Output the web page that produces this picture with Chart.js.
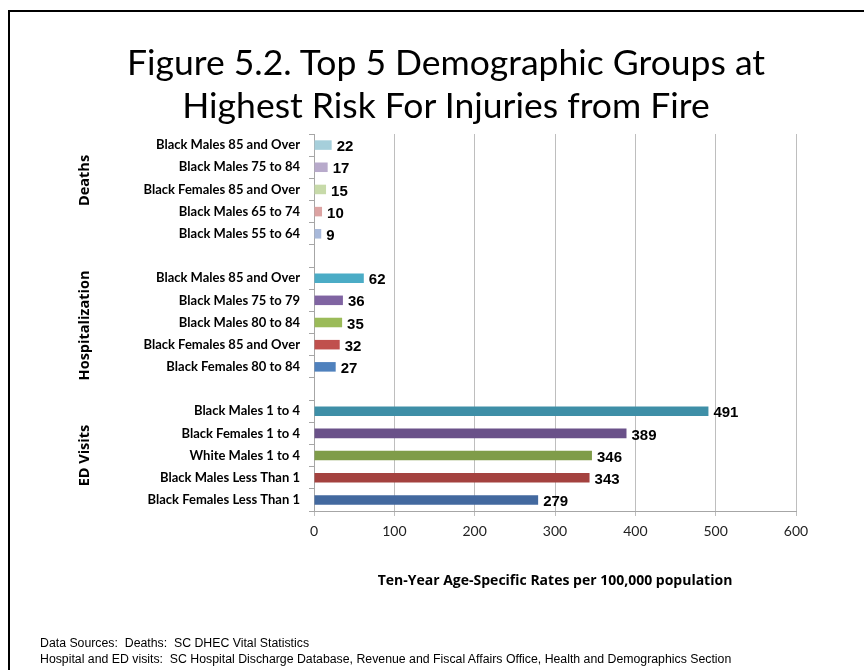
<!DOCTYPE html>
<html>
<head>
<meta charset="utf-8">
<script src="https://cdn.jsdelivr.net/npm/chart.js@4"></script>
<style>
    body { margin: 0; width: 864px; height: 670px; overflow: hidden; background: #fff; position: relative; }
    #frame { position: absolute; left: 8px; top: 10px; width: 900px; height: 700px; border: 2px solid #000; }
    #chart { position: absolute; left: 0; top: 0; }
    .title { position: absolute; left: 0; width: 892px; top: 40px; text-align: center;
             font-family: Lato, sans-serif; font-size: 35.5px; line-height: 43px; color: #000; }
    .sources { position: absolute; left: 40px; top: 635px; font-family: "Liberation Sans", sans-serif;
               font-size: 12.3px; line-height: 16px; color: #000; white-space: nowrap; }
</style>
</head>
<body>
<div id="frame"></div>
<canvas id="chart" width="864" height="670"></canvas>
<div class="title">Figure 5.2. Top 5 Demographic Groups at<br>Highest Risk For Injuries from Fire</div>
<div class="sources">Data Sources:&nbsp; Deaths:&nbsp; SC DHEC Vital Statistics<br>Hospital and ED visits:&nbsp; SC Hospital Discharge Database, Revenue and Fiscal Affairs Office, Health and Demographics Section</div>
<script>
// data
const sections = ['Deaths', 'Hospitalization', 'ED Visits'];

const deathGroups = ['Black Males 85 and Over', 'Black Males 75 to 84', 'Black Females 85 and Over', 'Black Males 65 to 74', 'Black Males 55 to 64'];
const deathRates = [22, 17, 15, 10, 9];

const hospGroups = ['Black Males 85 and Over', 'Black Males 75 to 79', 'Black Males 80 to 84', 'Black Females 85 and Over', 'Black Females 80 to 84'];
const hospRates = [62, 36, 35, 32, 27];

const edGroups = ['Black Males 1 to 4', 'Black Females 1 to 4', 'White Males 1 to 4', 'Black Males Less Than 1', 'Black Females Less Than 1'];
const edRates = [491, 389, 346, 343, 279];

const xMin = 0;
const xMax = 600;
const xStep = 100;

// colours per bar
const deathColors = ['#A6CFDB', '#B8AACB', '#C7DAA9', '#DCA3A2', '#A8B9DA'];
const hospColors = ['#4BACC6', '#8064A2', '#9BBB59', '#C0504D', '#4F81BD'];
const edColors = ['#3E8FA7', '#6A5189', '#7F9C49', '#A4423F', '#43699F'];

// one row of gap between the sections
const labels = [...deathGroups, '', ...hospGroups, '', ...edGroups];
const values = [...deathRates, null, ...hospRates, null, ...edRates];
const colors = [...deathColors, 'rgba(0,0,0,0)', ...hospColors, 'rgba(0,0,0,0)', ...edColors];

const sectionShift = [-9, 3, 0];

const extraLabels = {
    id: 'extraLabels',
    afterDatasetsDraw(chart) {
        const ctx = chart.ctx;
        const meta = chart.getDatasetMeta(0);
        const yScale = chart.scales.y;
        ctx.save();
        ctx.fillStyle = '#000';
        ctx.textBaseline = 'middle';
        ctx.textAlign = 'left';
        ctx.font = 'bold 15px "Liberation Sans"';
        meta.data.forEach((bar, i) => {
            const v = values[i];
            if (v == null) return;
            ctx.fillText(String(v), bar.x + 5, bar.y + 2);
        });

        ctx.font = 'bold 14.5px "Open Sans"';
        ctx.textAlign = 'center';
        sections.forEach((name, s) => {
            const first = s * 6;
            const y = (yScale.getPixelForValue(first) + yScale.getPixelForValue(first + 4)) / 2 + sectionShift[s];
            ctx.save();
            ctx.translate(85, y);
            ctx.rotate(-Math.PI / 2);
            ctx.fillText(name, 0, 0);
            ctx.restore();
        });
        ctx.restore();
    }
};

new Chart(document.getElementById('chart'), {
    type: 'bar',
    data: {
        labels: labels,
        datasets: [{
            data: values,
            backgroundColor: colors,
            borderWidth: 0,
            barPercentage: 0.43,
            categoryPercentage: 1
        }]
    },
    options: {
        indexAxis: 'y',
        responsive: false,
        animation: false,
        layout: {
            padding: { left: 0, right: 68, top: 134, bottom: 81 }
        },
        plugins: {
            legend: { display: false },
            tooltip: { enabled: false }
        },
        scales: {
            x: {
                type: 'linear',
                min: xMin,
                max: xMax,
                afterFit: (scale) => { scale.height = 78; },
                ticks: {
                    stepSize: xStep,
                    color: '#222',
                    padding: 7,
                    font: { family: 'Lato', size: 14 }
                },
                grid: { color: '#BEBEBE', tickLength: 5 },
                border: { color: '#A6A6A6' },
                title: {
                    display: true,
                    text: 'Ten-Year Age-Specific Rates per 100,000 population',
                    color: '#000',
                    padding: { top: 0, bottom: 0 },
                    font: { family: 'Open Sans', size: 14, weight: 'bold' }
                }
            },
            y: {
                afterFit: (scale) => { scale.width = 314; },
                ticks: {
                    autoSkip: false,
                    color: '#000',
                    padding: 9,
                    font: { family: 'Lato', size: 13, weight: 'bold' }
                },
                grid: { drawOnChartArea: false, tickLength: 5, color: '#A6A6A6', offset: true },
                border: { color: '#A6A6A6' }
            }
        }
    },
    plugins: [extraLabels]
});
</script>
</body>
</html>
